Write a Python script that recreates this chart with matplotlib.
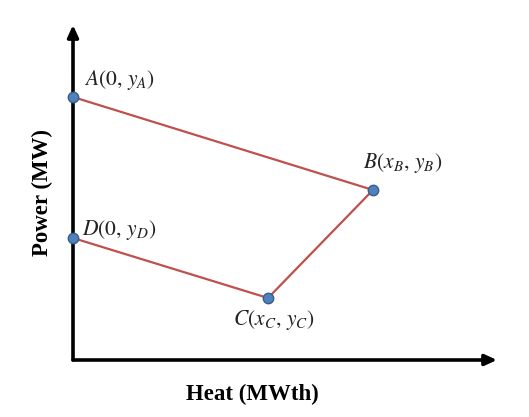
import matplotlib
matplotlib.use("Agg")
import matplotlib.pyplot as plt

# Schematic operating region (estimated positions, arbitrary units)
point_names = ["A", "B", "C", "D"]
heat = [0, 300, 195, 0]
power = [263, 170, 62, 122]
point_labels = [r"$A(0,\,y_A)$", r"$B(x_B,\,y_B)$", r"$C(x_C,\,y_C)$", r"$D(0,\,y_D)$"]
label_offsets = [(8, 12), (-7, 19.5), (-25, -16), (6.5, 6)]  # in points

plt.rcParams["mathtext.fontset"] = "stix"

W, H = 529, 417
fig = plt.figure(figsize=(W / 100, H / 100), dpi=100)
x0, y0, x1, y1 = 73, 360, 497, 25
ax = fig.add_axes([x0 / W, (H - y0) / H, (x1 - x0) / W, (y0 - y1) / H])
ax.set_xlim(0, x1 - x0)
ax.set_ylim(0, y0 - y1)
for s in ax.spines.values():
    s.set_visible(False)
ax.set_xticks([])
ax.set_yticks([])

# Axes arrows
arrow = dict(arrowstyle="-|>,head_length=0.7,head_width=0.32", color="black", lw=2.6,
             shrinkA=0, shrinkB=0)
ax.annotate("", xy=(1.0, 0), xytext=(0, 0), xycoords="axes fraction",
            arrowprops=arrow, annotation_clip=False)
ax.annotate("", xy=(0, 1.0), xytext=(0, 0), xycoords="axes fraction",
            arrowprops=arrow, annotation_clip=False)

# Polygon edges A-B-C-D
ax.plot(heat, power, color="#c0504d", lw=1.6, zorder=3, clip_on=False)
ax.plot(heat, power, "o", color="#4f81bd", mec="#385d8a", mew=1.0, ms=7.5,
        zorder=4, clip_on=False)

for xv, yv, lab, off in zip(heat, power, point_labels, label_offsets):
    ax.annotate(lab, xy=(xv, yv), xytext=off, textcoords="offset points",
                fontsize=15.5, ha="left", va="center", color="#222222")

fig.text(252 / W, 1 - 394 / H, "Heat (MWth)", ha="center", va="center",
         fontsize=16.5, fontweight="bold", family="Liberation Serif")
fig.text(42 / W, 1 - 193 / H, "Power (MW)", ha="center", va="center",
         rotation=90, fontsize=16.5, fontweight="bold", family="Liberation Serif")

fig.savefig("out.png", dpi=100)
